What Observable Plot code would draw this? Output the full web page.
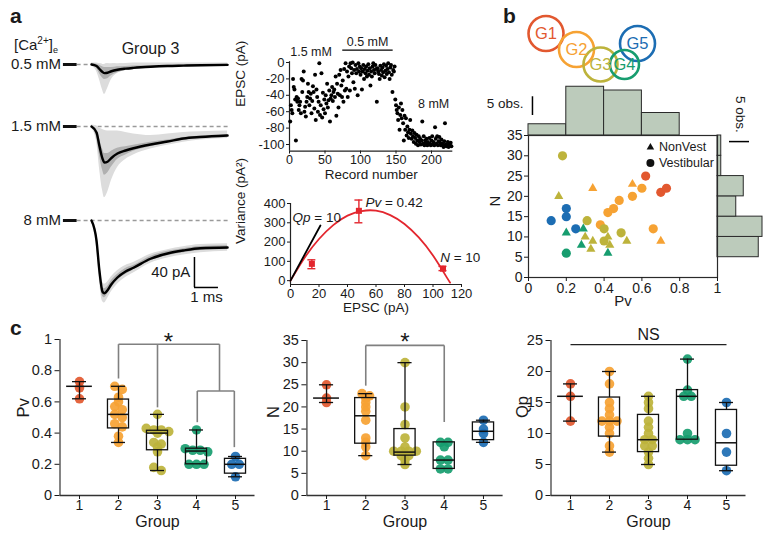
<!DOCTYPE html>
<html>
<head>
<meta charset="utf-8">
<script src="https://cdn.jsdelivr.net/npm/d3@7"></script>
<script src="https://cdn.jsdelivr.net/npm/@observablehq/plot@0.6"></script>
<style>
html,body{margin:0;padding:0;background:#fff;}
#fig{position:relative;width:771px;height:535px;overflow:hidden;font-family:'Liberation Sans',Arial,Helvetica,sans-serif;color:#1a1a1a;}
.plab{position:absolute;font-weight:bold;font-size:21px;line-height:1;}
.ca{position:absolute;font-size:15px;line-height:15px;white-space:nowrap;}
.ca sup{font-size:10px;line-height:0;vertical-align:6px;}
.ca sub{font-size:9px;line-height:0;vertical-align:-3px;}
</style>
</head>
<body>
<div id="fig"></div>
<script>
// ================= DATA =================
const groups = [1, 2, 3, 4, 5];
const groupColors = ["#e2582f", "#f6a233", "#bdb33b", "#179d6f", "#1c6db3"];

// Panel a: EPSC traces (pA) vs time after stimulus (ms), Group 3
const traceConditions = ["0.5 mM", "1.5 mM", "8 mM"];
const traceTime = [0, 0.21, 0.33, 0.46, 0.54, 0.67, 0.83, 1.08, 1.42, 1.75, 2.46, 3.17, 3.83, 4.54, 5.67];
const mean05    = [0, -2, -6, -10, -11.5, -11, -9, -7, -5.5, -4.5, -3, -2, -1.5, -1, -0.5];
const outerLo05 = [-2, -9, -20, -34, -40, -32, -20, -12, -8, -6.5, -5, -4, -3.5, -3, -3];
const outerHi05 = [2, 2, 1, 0, 0, 1, 1, 1, 1.5, 2, 2, 2, 2, 2, 2];
const innerLo05 = [-1, -5, -12, -18, -20, -19, -15, -11, -8, -6.5, -4.5, -3, -2.5, -2, -1.5];
const innerHi05 = [1, 0.5, -1, -3, -4, -4, -4, -3, -2.5, -2, -1.5, -1, -0.5, 0, 0.5];
const mean15    = [0, -8, -26, -43, -48, -47, -42, -36, -32, -29, -24, -20, -16, -14, -12];
const outerLo15 = [-2, -20, -55, -85, -95, -88, -72, -55, -44, -38, -30, -25, -21, -18, -16];
const outerHi15 = [2, 1, -2, -4, -5, -6, -6, -6, -8, -10, -12, -10, -8, -7, -6];
const innerLo15 = [-1, -14, -38, -58, -65, -62, -54, -44, -38, -33, -27, -22, -18, -16, -14];
const innerHi15 = [1, -4, -16, -30, -36, -36, -33, -29, -27, -25, -21, -18, -14.5, -12.5, -10.5];
const mean8     = [0, -27, -67, -95, -97, -93, -85, -76, -68, -63, -51, -44, -40, -37, -36];
const outerLo8  = [-2, -36, -80, -108, -110, -104, -95, -85, -76, -70, -57, -50, -46, -43, -41];
const outerHi8  = [2, -16, -52, -82, -85, -82, -75, -67, -60, -56, -45, -39, -35, -32, -31];
const innerLo8  = [-1, -31, -72, -101, -103, -98, -90, -80, -72, -66, -54, -47, -43, -40, -38.5];
const innerHi8  = [1, -22, -60, -89, -91, -88, -80, -72, -64, -60, -48, -41, -37.5, -34.5, -33.5];
const scaleBarPA = 40, scaleBarMS = 1;

// Panel a: EPSC amplitude per record
const recordEPSC = [
 -72,-52,-58,-62,-20,-30,-33,-45,-95,-42, -48,-44,-58,-52,-48,-62,-20,-36,-22,-11,
 -60,-54,-66,-48,-42,-26,-36,-52,-44,-38, -62,-47,-29,-36,-56,-15,-70,-33,-42,-60,
 -48,-1,-64,-52,-13,-67,-37,-57,-45,-62, -40,-50,-26,-55,-46,-34,-72,-44,-40,-30,
 -47,-36,-33,-42,-17,-65,-26,-38,-55,-15, -40,-9,-28,-42,-22,-48,-8,-34,
 -1,-32,-11,-42,-17,-5,-34,-1,-7,-13, 0,-24,-9,-32,-3,-13,-8,-40,-1,-11,
 -5,-15,-7,-33,-11,-3,-20,-8,-13,-5, -17,-10,-2,-15,-7,-28,-11,-17,-5,-1,
 -9,-13,-3,-8,-48,-7,-11,-14,-20,-4, -9,-16,-6,-12,-2,-18,-10,-4,-14,-8,
 -1,-12,-20,-6,-3,-15,-36,-9,-11,-5,
 -45,-52,-58,-62,-70,-55,-82,-64,-50,-68, -58,-74,-95,-65,-82,-68,-89,-78,-85,-92,
 -82,-70,-87,-93,-83,-90,-97,-86,-92,-99, -88,-95,-101,-90,-97,-93,-100,-95,-72,-99,
 -90,-101,-95,-98,-93,-101,-97,-100,-92,-99, -101,-95,-90,-100,-97,-101,-79,-93,-99,-90,
 -101,-96,-91,-98,-101,-94,-99,-101,-103,-96, -74,-100,-102,-101,-97,-103,-99,-101,-98,-102
];
const recordLabels = ["1.5 mM", "0.5 mM", "8 mM"];

// Panel a: variance–mean analysis
const vmMean  = [15, 48, 107];
const vmVar   = [87, 362, 62];
const vmErrLo = [62, 300, 52];
const vmErrHi = [108, 418, 74];
const fitEPSC = [0, 10, 20, 30, 40, 50, 60, 70, 80, 90, 100, 110, 112];
const fitVar  = [0, 120, 216, 288, 337, 361, 363, 340, 294, 224, 130, 13, -10];
const qpLineEPSC = [0, 21];
const qpLineVar  = [0, 286];

// Panel b: Venn of groups
const vennLabels = ["G1", "G2", "G3", "G4", "G5"];
const vennX = [45.5, 76, 100, 124, 137];
const vennY = [33, 49, 64, 64, 43];
const vennR = [17.5, 17.5, 17, 14.5, 17.5];

// Panel b: Pv vs N scatter
const bPv    = [0.18,0.62,0.70,0.73,0.60,0.55,0.48,0.45,0.42,0.38,0.66,0.31,0.40,0.40,0.49,0.20,0.20,0.12,0.25,0.20,
                0.16,0.34,0.55,0.70,0.20,0.29,0.28,0.42,0.30,0.33,0.34,0.42,0.43,0.52];
const bN     = [30,25,21,22,22,20,19,17,16,13,12,14,12,9,11,17,15,14,12,6,
                20,22,23,9,11,12,8,6,10,7,9,10,8,9];
const bGroup = [3,1,1,1,2,2,2,2,2,2,2,3,3,3,3,5,5,5,5,4,
                3,2,2,2,4,4,4,4,3,3,3,3,3,3];
const bType  = ["V","V","V","V","V","V","V","V","V","V","V","V","V","V","V","V","V","V","V","V",
                "NV","NV","NV","NV","NV","NV","NV","NV","NV","NV","NV","NV","NV","NV"];
const legendLabels = ["NonVest", "Vestibular"];
const pvBinEdges = [0, 0.2, 0.4, 0.6, 0.8];
const pvBinCounts = [3, 13, 12, 6];
const nBinEdges = [5, 10, 15, 20, 25, 30, 35];
const nBinCounts = [11, 12, 5, 7, 1, 1];

// Panel c: per-group values and box statistics
const pvValues = [[0.73,0.69,0.62],[0.70,0.68,0.63,0.60,0.57,0.55,0.52,0.50,0.46,0.44,0.38,0.34],
  [0.52,0.43,0.42,0.42,0.41,0.40,0.34,0.33,0.31,0.28,0.18,0.16],[0.42,0.30,0.29,0.29,0.28,0.20,0.20,0.20],[0.25,0.20,0.20,0.12]];
const pvMin = [0.62, 0.34, 0.16, 0.20, 0.12];
const pvQ1  = [null, 0.43, 0.29, 0.20, 0.14];
const pvMed = [0.70, 0.52, 0.40, 0.285, 0.20];
const pvQ3  = [null, 0.615, 0.415, 0.30, 0.235];
const pvMax = [0.73, 0.70, 0.52, 0.42, 0.25];

const nValues = [[25,22,21],[23,22.5,22,21,20,19,17,13,12,11,9],
  [30,20,16,13,11,10,10,10,10,9,9,8,7],[12,12,11,8,8,6,6],[17,15,14,12]];
const nMin = [21, 9, 7, 6, 12];
const nQ1  = [null, 11.7, 9, 6, 12.5];
const nMed = [22, 18, 9.8, 8, 14.5];
const nQ3  = [null, 22, 15, 12, 16.5];
const nMax = [25, 23, 30, 12, 17];

const qpValues = [[18,16,12],[20,18,15,14,13,12,12,12,11,10,8,7],
  [16,15,14,12,11,10,9,9,8,8,7,6,5],[22,17,16,16,10,9,9,9],[15,10,7,4]];
const qpMin = [12, 7, 5, 9, 4];
const qpQ1  = [null, 9.5, 7, 9, 4.8];
const qpMed = [16, 12, 9, 16, 8.5];
const qpQ3  = [null, 15.8, 13, 17, 13.8];
const qpMax = [18, 20, 16, 22, 15];

// ================= HELPERS =================
const FONT = "'Liberation Sans', Arial, Helvetica, sans-serif";
const fig = document.getElementById("fig");
function put(node, left, top) {
  node.style.position = "absolute";
  node.style.left = left + "px";
  node.style.top = top + "px";
  fig.appendChild(node);
  return node;
}
function css(size) {
  return `background:transparent;overflow:visible;font-family:${FONT};font-size:${size}px;color:#1a1a1a;`;
}
function html(cls, content, left, top) {
  const d = document.createElement("div");
  d.className = cls; d.innerHTML = content;
  d.style.left = left + "px"; d.style.top = top + "px";
  fig.appendChild(d);
}
function italicize(svg, full, ital) {
  for (const t of svg.querySelectorAll("text")) {
    if (t.textContent === full) {
      t.textContent = "";
      const a = document.createElementNS("http://www.w3.org/2000/svg", "tspan");
      a.setAttribute("font-style", "italic"); a.textContent = ital;
      const b = document.createElementNS("http://www.w3.org/2000/svg", "tspan");
      b.textContent = full.slice(ital.length);
      t.appendChild(a); t.appendChild(b);
    }
  }
}

// ================= PANEL LABELS =================
html("plab", "a", 10, 5);
html("plab", "b", 503, 5);
html("plab", "c", 10, 317);
html("ca", "[Ca<sup>2+</sup>]<sub>e</sub>", 14, 37);

// ================= TRACES =================
const traceSets = [
  {cond: "0.5 mM", mean: mean05, lo: outerLo05, hi: outerHi05, ilo: innerLo05, ihi: innerHi05},
  {cond: "1.5 mM", mean: mean15, lo: outerLo15, hi: outerHi15, ilo: innerLo15, ihi: innerHi15},
  {cond: "8 mM",   mean: mean8,  lo: outerLo8,  hi: outerHi8,  ilo: innerLo8,  ihi: innerHi8}
];
const rowOffset = {"0.5 mM": 0, "1.5 mM": -82.67, "8 mM": -208};
const traceRows = traceSets.flatMap(s => traceTime.map((t, i) => {
  const o = rowOffset[s.cond];
  return {cond: s.cond, t, mean: s.mean[i] + o, lo: s.lo[i] + o, hi: s.hi[i] + o, ilo: s.ilo[i] + o, ihi: s.ihi[i] + o};
}));
const sbX = 4.29, sbY = -297.3;
const traces = Plot.plot({
  width: 240, height: 265, margin: 0,
  style: css(15),
  x: {domain: [-91 / 24, 149 / 24], axis: null},
  y: {domain: [-321.33, 32], axis: null},
  marks: [
    Plot.ruleY(traceConditions, {y: c => rowOffset[c], x1: -0.6, x2: 5.7, stroke: "#9a9a9a", strokeWidth: 1.5, strokeDasharray: "4,3"}),
    Plot.ruleY(traceConditions, {y: c => rowOffset[c], x1: -1.17, x2: -0.6, stroke: "#111", strokeWidth: 3}),
    Plot.areaY(traceRows, {x: "t", y1: "lo", y2: "hi", z: "cond", fill: "#dcdcdc", curve: "monotone-x"}),
    Plot.areaY(traceRows, {x: "t", y1: "ilo", y2: "ihi", z: "cond", fill: "#b0b0b0", curve: "monotone-x"}),
    Plot.line(traceRows, {x: "t", y: "mean", z: "cond", stroke: "#000", strokeWidth: 2.4, curve: "monotone-x"}),
    Plot.text(traceConditions, {x: -1.27, y: c => rowOffset[c], text: c => c, textAnchor: "end", fontSize: 15}),
    Plot.text(["Group 3"], {x: 2.46, y: 21.3, text: d => d, fontSize: 16}),
    Plot.ruleX([sbX], {y1: sbY, y2: sbY + scaleBarPA, stroke: "#000", strokeWidth: 1.5}),
    Plot.ruleY([sbY], {x1: sbX, x2: sbX + scaleBarMS, stroke: "#000", strokeWidth: 1.5}),
    Plot.text([`${scaleBarPA} pA`], {x: sbX - 0.17, y: sbY + 20, text: d => d, textAnchor: "end", fontSize: 15}),
    Plot.text([`${scaleBarMS} ms`], {x: sbX + 0.5, y: -310.7, text: d => d, fontSize: 15})
  ]
});
put(traces, 0, 40);

// ================= RECORD SCATTER =================
const recRows = recordEPSC.map((v, i) => ({rec: i + 1, v}));
const recPlot = Plot.plot({
  width: 240, height: 155, marginLeft: 64, marginRight: 12.7, marginTop: 32, marginBottom: 34.44,
  style: css(13),
  x: {domain: [0, 230]},
  y: {domain: [-108, 0]},
  marks: [
    Plot.ruleX([0], {y1: -108, y2: 1, stroke: "#222", strokeWidth: 1.2}),
    Plot.ruleY([-108], {x1: 0, x2: 230, stroke: "#222", strokeWidth: 1.2}),
    Plot.axisY({ticks: [0, -20, -40, -60, -80, -100], tickFormat: d => String(d), tickSize: 3, tickPadding: 2, fontSize: 13, label: null}),
    Plot.axisX({ticks: [0, 50, 100, 150, 200], tickFormat: d => String(d), tickSize: 3, tickPadding: 1, fontSize: 12.5, label: null}),
    Plot.dot(recRows, {x: "rec", y: "v", r: 2, fill: "#000"}),
    Plot.text([recordLabels[0]], {x: 1, y: 13.4, text: d => d, textAnchor: "start", fontSize: 12.5}),
    Plot.text([recordLabels[1]], {x: 110, y: 24.4, text: d => d, fontSize: 12.5}),
    Plot.ruleY([15.2], {x1: 75, x2: 146, stroke: "#000", strokeWidth: 1.3}),
    Plot.text([recordLabels[2]], {x: 203, y: -50, text: d => d, fontSize: 12.5}),
    Plot.text(["EPSC (pA)"], {frameAnchor: "left", rotate: -90, dx: -49, text: d => d, fontSize: 13.5}),
    Plot.text(["Record number"], {frameAnchor: "bottom", dy: 28, text: d => d, fontSize: 13.5})
  ]
});
put(recPlot, 225, 30);

// ================= VARIANCE–MEAN =================
const vmRows = vmMean.map((m, i) => ({m, v: vmVar[i], lo: vmErrLo[i], hi: vmErrHi[i]}));
const fitRows = fitEPSC.map((e, i) => ({e, v: fitVar[i]}));
const qpRows = qpLineEPSC.map((e, i) => ({e, v: qpLineVar[i]}));
const vmPlot = Plot.plot({
  width: 255, height: 130, marginLeft: 65, marginRight: 19, marginTop: 18, marginBottom: 31,
  style: css(13),
  x: {domain: [0, 120]},
  y: {domain: [-20, 400]},
  marks: [
    Plot.ruleX([0], {y1: -20, y2: 400, stroke: "#222", strokeWidth: 1.2}),
    Plot.ruleY([-20], {x1: 0, x2: 120, stroke: "#222", strokeWidth: 1.2}),
    Plot.axisY({ticks: [0, 100, 200, 300, 400], tickFormat: d => String(d), tickSize: 3, tickPadding: 2, fontSize: 13, label: null}),
    Plot.axisX({ticks: [0, 20, 40, 60, 80, 100, 120], tickFormat: d => String(d), tickSize: 3, tickPadding: 1, fontSize: 13, label: null}),
    Plot.line(fitRows, {x: "e", y: "v", stroke: "#e3262e", strokeWidth: 1.8, curve: "natural"}),
    Plot.line(qpRows, {x: "e", y: "v", stroke: "#000", strokeWidth: 1.8}),
    Plot.ruleX(vmRows, {x: "m", y1: "lo", y2: "hi", stroke: "#e3262e", strokeWidth: 1.4}),
    Plot.ruleY(vmRows, {y: "lo", x1: d => d.m - 2.8, x2: d => d.m + 2.8, stroke: "#e3262e", strokeWidth: 1.4}),
    Plot.ruleY(vmRows, {y: "hi", x1: d => d.m - 2.8, x2: d => d.m + 2.8, stroke: "#e3262e", strokeWidth: 1.4}),
    Plot.dot(vmRows, {x: "m", y: "v", symbol: "square", r: 3.4, fill: "#e3262e"}),
    Plot.text(["Qp = 10"], {x: 1.4, y: 329, text: d => d, textAnchor: "start", fontSize: 13.5}),
    Plot.text(["Pv = 0.42"], {x: 52.6, y: 402, text: d => d, textAnchor: "start", fontSize: 13.5}),
    Plot.text(["N = 10"], {x: 105, y: 118, text: d => d, textAnchor: "start", fontSize: 13.5}),
    Plot.text(["Variance (pA²)"], {frameAnchor: "left", rotate: -90, dx: -50, text: d => d, fontSize: 13.5}),
    Plot.text(["EPSC (pA)"], {frameAnchor: "bottom", dy: 27.5, text: d => d, fontSize: 13.5})
  ]
});
italicize(vmPlot, "Qp = 10", "Qp");
italicize(vmPlot, "Pv = 0.42", "Pv");
italicize(vmPlot, "N = 10", "N");
put(vmPlot, 225, 185);

// ================= VENN =================
const vennRows = vennLabels.map((l, i) => ({l, x: vennX[i], y: vennY[i], r: vennR[i], c: groupColors[i]}));
const venn = Plot.plot({
  width: 200, height: 90, margin: 0,
  style: css(16),
  x: {domain: [0, 200], range: [0, 200], axis: null},
  y: {domain: [0, 90], range: [0, 90], axis: null},
  r: {type: "identity"},
  marks: [
    Plot.dot(vennRows, {x: "x", y: "y", r: "r", stroke: d => d.c, strokeWidth: 2.6, fill: "none"}),
    Plot.text(vennRows, {x: "x", y: "y", text: "l", fill: d => d.c, fontSize: 16.5})
  ]
});
put(venn, 500, 0);

// ================= TOP HISTOGRAM (Pv) =================
const pvHist = pvBinCounts.map((c, i) => ({x1: pvBinEdges[i], x2: pvBinEdges[i] + 0.2, c}));
const topHist = Plot.plot({
  width: 250, height: 60, marginLeft: 48, marginRight: 13, marginTop: 0, marginBottom: 0,
  style: css(13.5),
  x: {domain: [0, 1], axis: null},
  y: {domain: [0, 16], axis: null},
  marks: [
    Plot.rectY(pvHist, {x1: "x1", x2: "x2", y: "c", fill: "#bccbbb", stroke: "#2a2a2a", strokeWidth: 1}),
    Plot.ruleX([0.021], {y1: 5.33, y2: 10.33, stroke: "#000", strokeWidth: 1.5}),
    Plot.text(["5 obs."], {x: -0.026, y: 8.5, text: d => d, textAnchor: "end", fontSize: 13.5})
  ]
});
put(topHist, 480, 75);

// ================= RIGHT HISTOGRAM (N) =================
const nHist = nBinCounts.map((c, i) => ({y1: nBinEdges[i], y2: nBinEdges[i + 1], c}));
const rightHist = Plot.plot({
  width: 71, height: 200, marginLeft: 17, marginRight: 0, marginTop: 55, marginBottom: 3,
  style: css(13.5),
  x: {domain: [0, 14.4], axis: null},
  y: {domain: [0, 35], axis: null},
  marks: [
    Plot.rectX(nHist, {y1: "y1", y2: "y2", x: "c", fill: "#bccbbb", stroke: "#2a2a2a", strokeWidth: 1}),
    Plot.ruleY([33.5], {x1: 3.2, x2: 8.53, stroke: "#000", strokeWidth: 1.5}),
    Plot.text(["5 obs."], {x: 6.13, y: 40.2, text: d => d, rotate: 90, fontSize: 13.5})
  ]
});
put(rightHist, 700, 80);

// ================= SCATTER Pv vs N =================
const bRows = bPv.map((p, i) => ({p, n: bN[i], g: bGroup[i], t: bType[i]}));
const scat = Plot.plot({
  width: 250, height: 190, marginLeft: 48, marginRight: 13, marginTop: 10, marginBottom: 38,
  style: css(14),
  x: {domain: [0, 1]},
  y: {domain: [0, 35]},
  color: {domain: groups, range: groupColors},
  marks: [
    Plot.frame({stroke: "#2a2a2a", strokeWidth: 1.2}),
    Plot.axisX({ticks: [0, 0.2, 0.4, 0.6, 0.8, 1], tickFormat: d => String(d), tickSize: 4, tickPadding: 2, fontSize: 14, label: null}),
    Plot.axisY({ticks: [0, 5, 10, 15, 20, 25, 30, 35], tickFormat: d => String(d), tickSize: 4, tickPadding: 2, fontSize: 14, label: null}),
    Plot.dot(bRows.filter(d => d.t === "V"), {x: "p", y: "n", fill: "g", r: 4.6, symbol: "circle"}),
    Plot.dot(bRows.filter(d => d.t === "NV"), {x: "p", y: "n", fill: "g", r: 3.4, symbol: "triangle"}),
    Plot.dot([legendLabels[0]], {x: 0.645, y: 32.1, symbol: "triangle", r: 2.8, fill: "#111"}),
    Plot.dot([legendLabels[1]], {x: 0.645, y: 28.2, symbol: "circle", r: 4, fill: "#111"}),
    Plot.text(legendLabels, {x: 0.69, y: (d, i) => [32.1, 28.2][i], text: d => d, textAnchor: "start", fontSize: 12.5}),
    Plot.text(["N"], {frameAnchor: "left", rotate: -90, dx: -33, text: d => d, fontSize: 15}),
    Plot.text(["Pv"], {frameAnchor: "bottom", dy: 28, text: d => d, fontSize: 15})
  ]
});
put(scat, 480, 125);

// ================= BOX PLOTS =================
function swarm(values, g, pxPerUnit, unitPx) {
  const sorted = [...values].sort((a, b) => b - a);
  const out = [];
  let cl = [];
  const flush = () => {
    const n = cl.length;
    cl.forEach((v, k) => out.push({g, v, x: g + ((k - (n - 1) / 2) * 7.5) / unitPx}));
    cl = [];
  };
  for (const v of sorted) {
    if (cl.length && (cl[0] - v) * pxPerUnit > 3.2) flush();
    cl.push(v);
  }
  flush();
  return out;
}
function boxPanel(o) {
  const plotH = 225 - o.marginTop - 40;
  const pxPerUnit = plotH / o.top;
  const rows = groups.flatMap((g, gi) => swarm(o.values[gi], g, pxPerUnit, 39));
  const st = groups.map((g, i) => ({g, min: o.vmin[i], q1: o.q1[i], med: o.med[i], q3: o.q3[i], max: o.vmax[i]}));
  const boxed = st.filter(d => d.q1 != null);
  const lowerW = st.map(d => ({g: d.g, a: d.min, b: d.q1 ?? d.med})).filter(d => d.b - d.a > 1e-9);
  const upperW = st.map(d => ({g: d.g, a: d.q3 ?? d.med, b: d.max})).filter(d => d.b - d.a > 1e-9);
  const ink = "#111";
  return Plot.plot({
    width: o.width, height: 225, marginLeft: o.marginLeft, marginRight: o.marginRight, marginTop: o.marginTop, marginBottom: 40,
    style: css(14.5),
    x: {domain: [0.5, 5.5]},
    y: {domain: [0, o.top]},
    color: {domain: groups, range: groupColors},
    marks: [
      Plot.ruleX([0.5], {y1: 0, y2: o.top, stroke: "#666", strokeWidth: 1.6}),
      Plot.ruleY([0], {x1: 0.5, x2: 5.5, stroke: "#333", strokeWidth: 1.6}),
      Plot.axisY({ticks: o.ticks, tickFormat: d => String(d), tickSize: 5, tickPadding: 3, fontSize: 14.5, label: null}),
      Plot.axisX({ticks: groups, tickFormat: d => String(d), tickSize: 4, tickPadding: 1, fontSize: 14, label: null}),
      ...o.extra,
      Plot.dot(rows, {x: "x", y: "v", r: 4.8, fill: "g", fillOpacity: 0.92}),
      Plot.rect(boxed, {x1: d => d.g - 0.27, x2: d => d.g + 0.27, y1: "q1", y2: "q3", fill: "none", stroke: ink, strokeWidth: 1.3}),
      Plot.ruleY(st, {y: "med", x1: d => d.g - (d.q1 == null ? 0.33 : 0.27), x2: d => d.g + (d.q1 == null ? 0.33 : 0.27), stroke: ink, strokeWidth: 1.5}),
      Plot.ruleX(lowerW, {x: "g", y1: "a", y2: "b", stroke: ink, strokeWidth: 1.3}),
      Plot.ruleX(upperW, {x: "g", y1: "a", y2: "b", stroke: ink, strokeWidth: 1.3}),
      Plot.ruleY(lowerW, {y: "a", x1: d => d.g - 0.18, x2: d => d.g + 0.18, stroke: ink, strokeWidth: 1.3}),
      Plot.ruleY(upperW, {y: "b", x1: d => d.g - 0.18, x2: d => d.g + 0.18, stroke: ink, strokeWidth: 1.3}),
      Plot.text([o.label], {frameAnchor: "left", rotate: -90, dx: o.labelDx, text: d => d, fontSize: 16.5}),
      Plot.text(["Group"], {frameAnchor: "bottom", dy: 31, text: d => d, fontSize: 16})
    ]
  });
}
const brk = {stroke: "#808080", strokeWidth: 1.6};
const pvBracket = [[2, 0.97, 4.59, 0.97], [2, 0.97, 2, 0.75], [3, 0.97, 3, 0.565], [4.59, 0.97, 4.59, 0.67],
                   [4.02, 0.67, 4.97, 0.67], [4.02, 0.67, 4.02, 0.47], [4.97, 0.67, 4.97, 0.31]];
const nBracket = [[2, 33.9, 4, 33.9], [2, 33.9, 2, 24.8], [4, 33.9, 4, 16.6]];
const qpBracket = [[1, 24.35, 5, 24.35]];
const segOpts = {x1: d => d[0], y1: d => d[1], x2: d => d[2], y2: d => d[3]};

const pvBox = boxPanel({
  values: pvValues, vmin: pvMin, q1: pvQ1, med: pvMed, q3: pvQ3, vmax: pvMax,
  top: 1, ticks: [0, 0.2, 0.4, 0.6, 0.8, 1], label: "Pv", labelDx: -36.5,
  width: 260, marginLeft: 59.5, marginRight: 5.5, marginTop: 29,
  extra: [Plot.link(pvBracket, {...segOpts, ...brk}),
          Plot.text(["*"], {x: 3.28, y: 1.03, text: d => d, dy: 7, fontSize: 24})]
});
put(pvBox, 0, 310);

const nBox = boxPanel({
  values: nValues, vmin: nMin, q1: nQ1, med: nMed, q3: nQ3, vmax: nMax,
  top: 35, ticks: [0, 5, 10, 15, 20, 25, 30, 35], label: "N", labelDx: -33.4,
  width: 260, marginLeft: 46.4, marginRight: 17.4, marginTop: 30,
  extra: [Plot.link(nBracket, {...segOpts, ...brk}),
          Plot.text(["*"], {x: 3, y: 36.1, text: d => d, dy: 7, fontSize: 24})]
});
put(nBox, 260, 310);

const qpBox = boxPanel({
  values: qpValues, vmin: qpMin, q1: qpQ1, med: qpMed, q3: qpQ3, vmax: qpMax,
  top: 25, ticks: [0, 5, 10, 15, 20, 25], label: "Qp", labelDx: -28.5,
  width: 261, marginLeft: 40.5, marginRight: 25.5, marginTop: 30,
  extra: [Plot.link(qpBracket, {...segOpts, stroke: "#222", strokeWidth: 1.3}),
          Plot.text(["NS"], {x: 3, y: 25.9, text: d => d, fontSize: 16})]
});
put(qpBox, 510, 310);
</script>
</body>
</html>
